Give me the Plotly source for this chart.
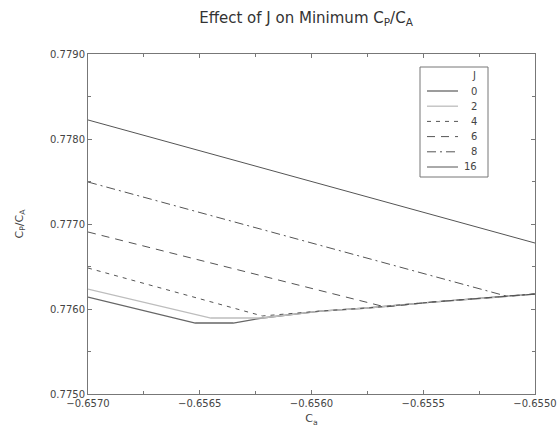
import plotly.graph_objects as go

# Data (x = C_a, y = C_P/C_A)
j_labels = ["0", "2", "4", "6", "8", "16"]

x_j0 = [-0.65700, -0.65652, -0.65635, -0.65622, -0.65596, -0.65575, -0.65546, -0.65516, -0.65500]
y_j0 = [0.776141, 0.775835, 0.775835, 0.775894, 0.775976, 0.776012, 0.776082, 0.776141, 0.776176]

x_j2 = [-0.65700, -0.65645, -0.65622, -0.65596, -0.65575, -0.65546, -0.65516, -0.65500]
y_j2 = [0.776235, 0.775894, 0.775894, 0.775976, 0.776012, 0.776082, 0.776141, 0.776176]

x_j4 = [-0.65700, -0.65622, -0.65596, -0.65575, -0.65546, -0.65516, -0.65500]
y_j4 = [0.776482, 0.775918, 0.775976, 0.776012, 0.776082, 0.776141, 0.776176]

x_j6 = [-0.65700, -0.65567, -0.65546, -0.65516, -0.65500]
y_j6 = [0.776906, 0.776024, 0.776082, 0.776141, 0.776176]

x_j8 = [-0.65700, -0.65513, -0.65500]
y_j8 = [0.777494, 0.776153, 0.776176]

x_j16 = [-0.65700, -0.65500]
y_j16 = [0.778224, 0.776776]

series = [
    (x_j0, y_j0, "#666666", "solid", 1.3),
    (x_j2, y_j2, "#bdbdbd", "solid", 1.3),
    (x_j4, y_j4, "#555555", "4px,5px", 1.0),
    (x_j6, y_j6, "#555555", "8px,6px", 1.0),
    (x_j8, y_j8, "#555555", "9px,4px,2px,4px", 1.0),
    (x_j16, y_j16, "#555555", "solid", 1.0),
]

FONT = "DejaVu Sans, Liberation Sans, Arial"
fig = go.Figure()
for (xs, ys, col, dash, w), lab in zip(series, j_labels):
    fig.add_trace(go.Scatter(x=xs, y=ys, mode="lines", name=lab, showlegend=False,
                             line=dict(color=col, dash=dash, width=w)))

# Compact legend box (plot-area paper coords)
L, T, W, H = 88, 54, 447, 340
def px(xp):
    return (xp - L) / W
def py(yp):
    return 1 - (yp - T) / H

shapes = [dict(type="rect", xref="paper", yref="paper", x0=px(420), x1=px(488),
               y0=py(177), y1=py(67), line=dict(color="#777777", width=1),
               fillcolor="white", layer="above")]
annotations = [dict(text="J", xref="paper", yref="paper", x=px(478), y=py(75),
                    xanchor="right", yanchor="middle", showarrow=False,
                    font=dict(family=FONT, size=10, color="#444444"))]
for i, ((xs, ys, col, dash, w), lab) in enumerate(zip(series, j_labels)):
    yy = 91 + i * 15.2
    shapes.append(dict(type="line", xref="paper", yref="paper", x0=px(427), x1=px(458),
                       y0=py(yy), y1=py(yy), line=dict(color=col, dash=dash, width=w),
                       layer="above"))
    annotations.append(dict(text=lab, xref="paper", yref="paper", x=px(479), y=py(yy),
                            xanchor="right", yanchor="middle", showarrow=False,
                            font=dict(family=FONT, size=10, color="#444444")))

axis_common = dict(
    showgrid=False, zeroline=False, showline=True, linecolor="#777777", linewidth=1,
    mirror="allticks", ticks="inside", ticklen=4, tickcolor="#777777",
    tickfont=dict(family=FONT, size=10, color="#444444"),
    tickformat=".4f", automargin=False,
)

fig.update_layout(
    template="none",
    width=559, height=430, autosize=False,
    margin=dict(l=88, r=24, t=54, b=36, pad=0, autoexpand=False),
    paper_bgcolor="white", plot_bgcolor="white",
    title=dict(text="Effect of J on Minimum C<sub>P</sub>/C<sub>A</sub>",
               x=306 / 559, xanchor="center", y=1 - 18 / 430, yanchor="middle",
               font=dict(family=FONT, size=15, color="#333333")),
    xaxis=dict(range=[-0.6570, -0.6550], tick0=-0.6570, dtick=0.0005,
               minor=dict(dtick=0.00025, ticks="inside", ticklen=3, tickcolor="#777777"),
               title=dict(text="C<sub>a</sub>", standoff=6,
                          font=dict(family=FONT, size=11, color="#444444")),
               **axis_common),
    yaxis=dict(range=[0.7750, 0.7790], tick0=0.7750, dtick=0.001,
               minor=dict(dtick=0.0005, ticks="inside", ticklen=3, tickcolor="#777777"),
               title=dict(text="C<sub>P</sub>/C<sub>A</sub>", standoff=24,
                          font=dict(family=FONT, size=11, color="#444444")),
               **axis_common),
    shapes=shapes,
    annotations=annotations,
    showlegend=False,
)

fig.write_html("out.html", config={"displayModeBar": False},
               post_script="document.body.style.margin='0';document.body.style.overflow='hidden';")
